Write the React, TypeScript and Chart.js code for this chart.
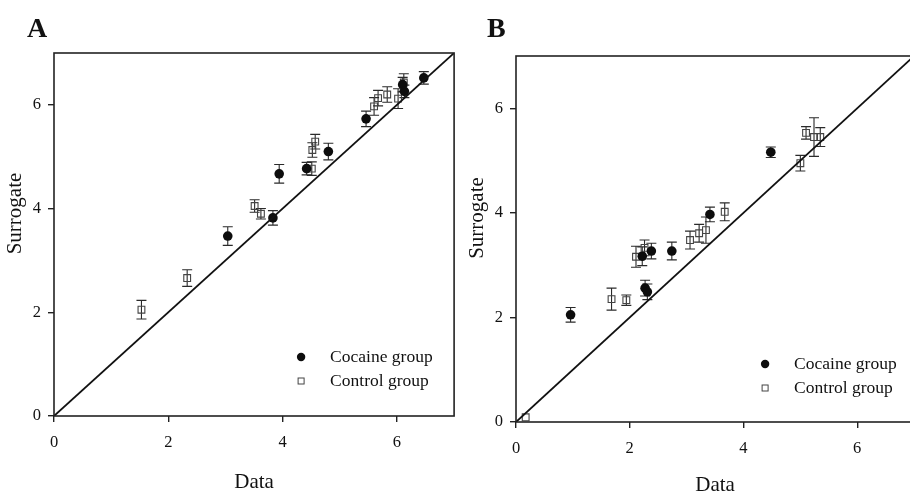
import React, { useEffect, useRef } from 'react';
import { Chart, registerables } from 'chart.js';

Chart.register(...registerables);

const panelLabels = ['A', 'B'];
const seriesNames = ['Cocaine group', 'Control group'];
const axisTicks = [0, 2, 4, 6];
const axisRange = [0, 7];
const identityLine = [0, 7];
const axisTitles = ['Data', 'Surrogate'];

// Panel A
const aCocaineX = [3.04, 3.83, 3.94, 4.42, 4.8, 5.46, 6.1, 6.13, 6.47];
const aCocaineY = [3.47, 3.82, 4.67, 4.77, 5.1, 5.73, 6.39, 6.26, 6.52];
const aCocaineErr = [0.18, 0.14, 0.18, 0.12, 0.16, 0.15, 0.14, 0.12, 0.12];
const aControlX = [1.53, 2.33, 3.51, 3.62, 4.51, 4.52, 4.57, 5.6, 5.67, 5.83, 6.02, 6.12];
const aControlY = [2.05, 2.66, 4.05, 3.9, 4.77, 5.13, 5.29, 5.97, 6.13, 6.2, 6.12, 6.43];
const aControlErr = [0.18, 0.16, 0.12, 0.1, 0.13, 0.14, 0.14, 0.17, 0.15, 0.15, 0.19, 0.17];

// Panel B
const bCocaineX = [0.96, 2.22, 2.27, 2.31, 2.38, 2.74, 3.41, 4.48];
const bCocaineY = [2.05, 3.17, 2.56, 2.49, 3.27, 3.27, 3.97, 5.16];
const bCocaineErr = [0.14, 0.18, 0.15, 0.15, 0.15, 0.17, 0.14, 0.1];
const bControlX = [0.17, 1.68, 1.94, 2.11, 2.26, 3.06, 3.22, 3.34, 3.67, 5.0, 5.1, 5.24, 5.35];
const bControlY = [0.09, 2.35, 2.33, 3.16, 3.33, 3.48, 3.61, 3.67, 4.02, 4.95, 5.53, 5.45, 5.45];
const bControlErr = [0, 0.21, 0.1, 0.2, 0.15, 0.17, 0.17, 0.25, 0.17, 0.15, 0.12, 0.37, 0.18];

const FONT = '"Liberation Serif", "Times New Roman", serif';
const INK = '#111';

const toPoints = (xs: number[], ys: number[]) => xs.map((x, i) => ({ x, y: ys[i] }));

const errorBarPlugin = {
  id: 'errorBars',
  beforeDatasetsDraw(chart: any) {
    const { ctx } = chart;
    const xs = chart.scales.x;
    const ys = chart.scales.y;
    chart.data.datasets.forEach((ds: any) => {
      if (!ds.errors) return;
      ctx.save();
      ctx.strokeStyle = '#2a2a2a';
      ctx.lineWidth = 1.1;
      ds.data.forEach((p: any, j: number) => {
        const e = ds.errors[j];
        if (!e) return;
        const px = xs.getPixelForValue(p.x);
        const y1 = ys.getPixelForValue(p.y + e);
        const y2 = ys.getPixelForValue(p.y - e);
        const cap = 5;
        ctx.beginPath();
        ctx.moveTo(px, y1);
        ctx.lineTo(px, y2);
        ctx.moveTo(px - cap, y1);
        ctx.lineTo(px + cap, y1);
        ctx.moveTo(px - cap, y2);
        ctx.lineTo(px + cap, y2);
        ctx.stroke();
      });
      ctx.restore();
    });
  },
};

const framePlugin = {
  id: 'frame',
  afterDatasetsDraw(chart: any) {
    const { ctx, chartArea } = chart;
    ctx.save();
    ctx.strokeStyle = '#222';
    ctx.lineWidth = 1.6;
    ctx.strokeRect(chartArea.left, chartArea.top, chartArea.right - chartArea.left, chartArea.bottom - chartArea.top);
    ctx.restore();
  },
};

// moves only the drawn y-axis title upward while the axis layers are painted,
// then restores the scale box before the datasets are drawn and clipped
const yTitleShiftPlugin = {
  id: 'yTitleShift',
  beforeDraw(chart: any, _args: any, opts: any) {
    const s = chart.scales.y;
    s.top -= opts.shift;
    s.bottom -= opts.shift;
  },
  beforeDatasetsDraw(chart: any, _args: any, opts: any) {
    const s = chart.scales.y;
    s.top += opts.shift;
    s.bottom += opts.shift;
  },
};

const insideLegendPlugin = {
  id: 'insideLegend',
  afterDatasetsDraw(chart: any, _args: any, opts: any) {
    const { ctx, chartArea } = chart;
    const items = chart.data.datasets.filter((d: any) => d.inLegend);
    items.forEach((ds: any, i: number) => {
      const cx = chartArea.right - opts.right;
      const cy = chartArea.bottom - opts.bottom + i * opts.rowGap;
      ctx.save();
      if (ds.pointStyle === 'circle') {
        ctx.fillStyle = ds.backgroundColor;
        ctx.beginPath();
        ctx.arc(cx, cy, 4.2, 0, Math.PI * 2);
        ctx.fill();
      } else {
        ctx.strokeStyle = ds.borderColor;
        ctx.lineWidth = 1;
        ctx.strokeRect(cx - 3, cy - 3, 6, 6);
      }
      ctx.fillStyle = INK;
      ctx.font = `17.5px ${FONT}`;
      ctx.textAlign = 'left';
      ctx.textBaseline = 'middle';
      ctx.fillText(ds.label, cx + opts.textGap, cy);
      ctx.restore();
    });
  },
};

type PanelCfg = {
  cocX: number[]; cocY: number[]; cocErr: number[];
  ctlX: number[]; ctlY: number[]; ctlErr: number[];
  pad: { top: number; right: number };
  yWidth: number; xHeight: number; yTitlePad: number; xTitlePad: number;
  legend: { right: number; bottom: number };
};

function buildChart(canvas: HTMLCanvasElement, p: PanelCfg) {
  return new Chart(canvas, {
    type: 'scatter',
    data: {
      datasets: [
        {
          label: 'identity',
          type: 'line',
          data: identityLine.map((v) => ({ x: v, y: v })),
          borderColor: '#111',
          borderWidth: 1.8,
          pointRadius: 0,
          showLine: true,
          fill: false,
        } as any,
        {
          label: seriesNames[0],
          data: toPoints(p.cocX, p.cocY),
          errors: p.cocErr,
          inLegend: true,
          pointStyle: 'circle',
          pointRadius: 4.8,
          backgroundColor: '#0d0d0d',
          borderColor: '#0d0d0d',
          borderWidth: 0,
        } as any,
        {
          label: seriesNames[1],
          data: toPoints(p.ctlX, p.ctlY),
          errors: p.ctlErr,
          inLegend: true,
          pointStyle: 'rect',
          pointRadius: 4.8,
          backgroundColor: 'rgba(0,0,0,0)',
          borderColor: '#444',
          borderWidth: 1.1,
        } as any,
      ],
    },
    options: {
      responsive: false,
      animation: false,
      events: [],
      layout: { padding: { left: 0, top: p.pad.top, right: p.pad.right, bottom: 0 } },
      plugins: {
        legend: { display: false },
        tooltip: { enabled: false },
        insideLegend: { right: p.legend.right, bottom: p.legend.bottom, rowGap: 24, textGap: 29 },
        yTitleShift: { shift: 21 },
      } as any,
      scales: {
        x: {
          type: 'linear',
          min: axisRange[0],
          max: axisRange[1],
          afterBuildTicks: (s: any) => {
            s.ticks = axisTicks.map((v) => ({ value: v }));
          },
          afterFit: (s: any) => {
            s.height = p.xHeight;
          },
          ticks: { font: { family: FONT, size: 16.5 }, color: INK, padding: 11 },
          grid: { drawOnChartArea: false, drawTicks: true, tickLength: 6, color: '#222', lineWidth: 1.4 },
          border: { display: false },
          title: {
            display: true,
            text: axisTitles[0],
            font: { family: FONT, size: 21 },
            color: INK,
            padding: { top: 0, bottom: p.xTitlePad },
          },
        },
        y: {
          type: 'linear',
          min: axisRange[0],
          max: axisRange[1],
          afterBuildTicks: (s: any) => {
            s.ticks = axisTicks.map((v) => ({ value: v }));
          },
          afterFit: (s: any) => {
            s.width = p.yWidth;
          },
          ticks: { font: { family: FONT, size: 16.5 }, color: INK, padding: 7 },
          grid: { drawOnChartArea: false, drawTicks: true, tickLength: 6, color: '#222', lineWidth: 1.4 },
          border: { display: false },
          title: {
            display: true,
            text: axisTitles[1],
            font: { family: FONT, size: 21 },
            color: INK,
            padding: { top: p.yTitlePad, bottom: 0 },
          },
        },
      },
    },
    plugins: [yTitleShiftPlugin, errorBarPlugin, framePlugin, insideLegendPlugin],
  } as any);
}

export default function App() {
  const aRef = useRef<HTMLCanvasElement>(null);
  const bRef = useRef<HTMLCanvasElement>(null);

  useEffect(() => {
    const a = buildChart(aRef.current!, {
      cocX: aCocaineX, cocY: aCocaineY, cocErr: aCocaineErr,
      ctlX: aControlX, ctlY: aControlY, ctlErr: aControlErr,
      pad: { top: 53, right: 3 },
      yWidth: 54, xHeight: 82, yTitlePad: 3, xTitlePad: 3,
      legend: { right: 153, bottom: 59 },
    });
    const b = buildChart(bRef.current!, {
      cocX: bCocaineX, cocY: bCocaineY, cocErr: bCocaineErr,
      ctlX: bControlX, ctlY: bControlY, ctlErr: bControlErr,
      pad: { top: 56, right: 4 },
      yWidth: 56, xHeight: 76, yTitlePad: 5, xTitlePad: 0,
      legend: { right: 149, bottom: 58 },
    });
    return () => {
      a.destroy();
      b.destroy();
    };
  }, []);

  const letterStyle: React.CSSProperties = {
    position: 'absolute',
    top: 14,
    fontFamily: FONT,
    fontWeight: 'bold',
    fontSize: 28,
    lineHeight: 1,
    color: INK,
  };

  return (
    <div style={{ position: 'absolute', left: 0, top: 0, width: 910, height: 498, overflow: 'hidden', background: '#fff' }}>
      <canvas ref={aRef} width={460} height={498} style={{ position: 'absolute', left: 0, top: 0 }} />
      <canvas ref={bRef} width={460} height={498} style={{ position: 'absolute', left: 460, top: 0 }} />
      <div style={{ ...letterStyle, left: 27 }}>{panelLabels[0]}</div>
      <div style={{ ...letterStyle, left: 487 }}>{panelLabels[1]}</div>
    </div>
  );
}
